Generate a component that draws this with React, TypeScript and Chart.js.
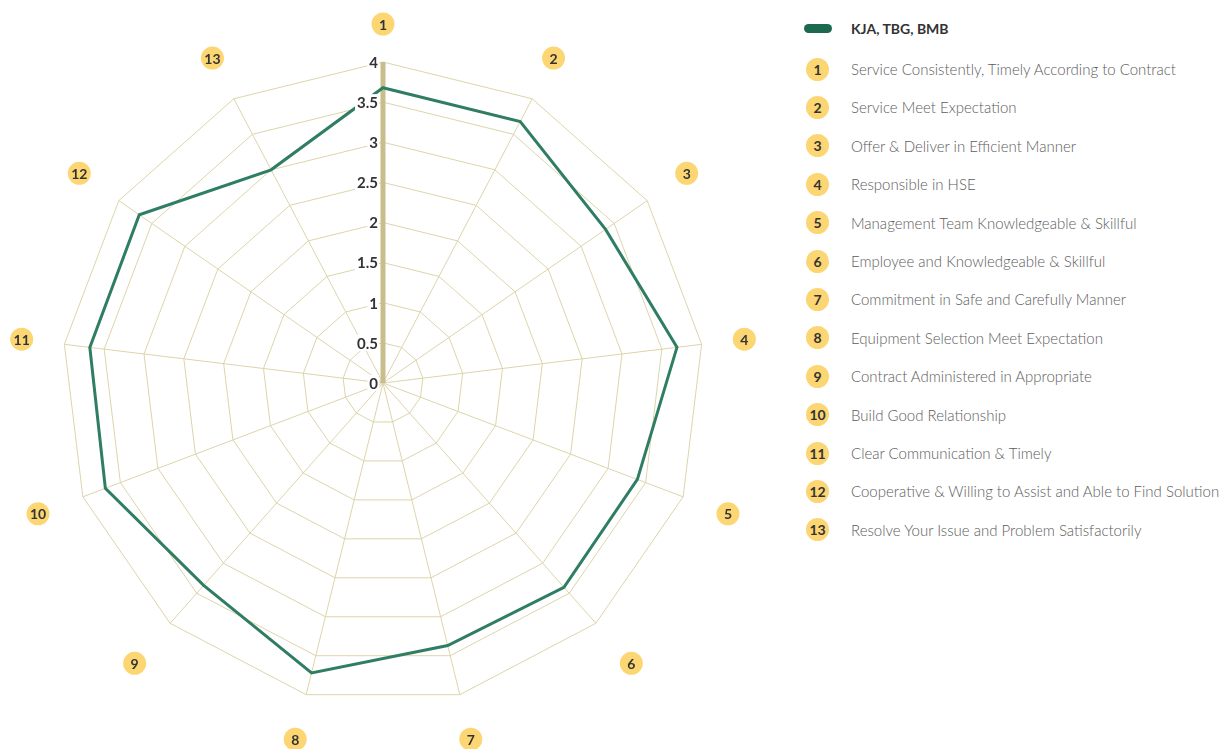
import React, { useEffect, useRef } from "react";
import { Chart, registerables } from "chart.js";

Chart.register(...registerables);

const axisLabels = ["1", "2", "3", "4", "5", "6", "7", "8", "9", "10", "11", "12", "13"];
const criteria = [
  "Service Consistently, Timely According to Contract",
  "Service Meet Expectation",
  "Offer & Deliver in Efficient Manner",
  "Responsible in HSE",
  "Management Team Knowledgeable & Skillful",
  "Employee and Knowledgeable & Skillful",
  "Commitment in Safe and Carefully Manner",
  "Equipment Selection Meet Expectation",
  "Contract Administered in Appropriate",
  "Build Good Relationship",
  "Clear Communication & Timely",
  "Cooperative & Willing to Assist and Able to Find Solution",
  "Resolve Your Issue and Problem Satisfactorily",
];
const seriesName = "KJA, TBG, BMB";
const seriesValues = [3.68, 3.68, 3.37, 3.69, 3.39, 3.4, 3.37, 3.72, 3.37, 3.7, 3.68, 3.69, 3.0];
const scaleMax = 4;
const scaleStep = 0.5;

const GREEN = "#2f7d62";
const GREEN_DARK = "#1b6a4f";
const YELLOW = "#fcd673";
const GRID = "#ddd4ab";
const AXIS_MAIN = "#c8bd8c";
const FONT = "Lato, 'Open Sans', sans-serif";

const tickLabelPlugin = {
  id: "tickLabelPlugin",
  afterDatasetsDraw(chart: any) {
    const scale = chart.scales.r;
    const ctx = chart.ctx;
    ctx.save();
    ctx.font = `bold 15px ${FONT}`;
    ctx.textAlign = "right";
    ctx.textBaseline = "middle";
    scale.ticks.forEach((t: any) => {
      const d = scale.getDistanceFromCenterForValue(t.value);
      const x = scale.xCenter - 5;
      const y = scale.yCenter - d;
      const label = String(t.value);
      const w = ctx.measureText(label).width;
      ctx.fillStyle = "#ffffff";
      ctx.fillRect(x - w - 2, y - 8, w + 3, 16);
      ctx.fillStyle = "#333333";
      ctx.fillText(label, x, y + 1);
    });
    ctx.restore();
  },
};

const pointLabelPlugin = {
  id: "pointLabelPlugin",
  afterDraw(chart: any) {
    const scale = chart.scales.r;
    const ctx = chart.ctx;
    ctx.save();
    ctx.font = `bold 14px ${FONT}`;
    ctx.textAlign = "center";
    ctx.textBaseline = "middle";
    axisLabels.forEach((lab, i) => {
      const a = scale.getIndexAngle(i);
      const s2 = Math.abs(Math.sin(2 * a));
      const off = 38 + 3.1 * Math.abs(Math.sin(a)) + 8 * s2 + 7.4 * Math.max(0, -Math.cos(a)) * s2;
      const p = scale.getPointPosition(i, scale.drawingArea + off);
      ctx.beginPath();
      ctx.arc(p.x, p.y, 11.5, 0, Math.PI * 2);
      ctx.fillStyle = YELLOW;
      ctx.fill();
      ctx.fillStyle = "#333333";
      ctx.fillText(lab, p.x, p.y + 1);
    });
    ctx.restore();
  },
};

function RadarChart() {
  const ref = useRef<HTMLCanvasElement>(null);
  useEffect(() => {
    if (!ref.current) return;
    const chart = new Chart(ref.current, {
      type: "radar",
      data: {
        labels: axisLabels,
        datasets: [
          {
            label: seriesName,
            data: seriesValues,
            borderColor: GREEN,
            backgroundColor: "transparent",
            borderWidth: 3,
            pointRadius: 0,
            fill: false,
            tension: 0,
          },
        ],
      },
      options: {
        animation: false,
        responsive: false,
        maintainAspectRatio: false,
        layout: { padding: { left: 62, top: 62, right: 66, bottom: 45 } },
        plugins: { legend: { display: false }, tooltip: { enabled: false } },
        scales: {
          r: {
            min: 0,
            max: scaleMax,
            ticks: { stepSize: scaleStep, display: false },
            pointLabels: { display: false },
            grid: { color: GRID, lineWidth: 1, circular: false },
            angleLines: {
              color: (c: any) => (c.index === 0 ? AXIS_MAIN : GRID),
              lineWidth: (c: any) => (c.index === 0 ? 5 : 1),
            },
          },
        },
      },
      plugins: [tickLabelPlugin, pointLabelPlugin],
    });
    return () => chart.destroy();
  }, []);
  return <canvas ref={ref} width={770} height={749} style={{ position: "absolute", left: 0, top: 0, width: 770, height: 749 }} />;
}

function Legend() {
  return (
    <div style={{ position: "absolute", left: 0, top: 0, fontFamily: FONT }}>
      <div style={{ position: "absolute", left: 804, top: 24, width: 28, height: 9, borderRadius: 5, background: GREEN_DARK }} />
      <div style={{ position: "absolute", left: 851, top: 19, height: 20, lineHeight: "20px", fontSize: 14, fontWeight: 700, color: "#333", whiteSpace: "nowrap" }}>
        {seriesName}
      </div>
      {criteria.map((c, i) => {
        const cy = 69 + i * 38.4;
        return (
          <React.Fragment key={i}>
            <div
              style={{
                position: "absolute",
                left: 806,
                top: cy - 11.5,
                width: 23,
                height: 23,
                borderRadius: "50%",
                background: YELLOW,
                color: "#333",
                fontWeight: 700,
                fontSize: 14,
                lineHeight: "23px",
                textAlign: "center",
              }}
            >
              {axisLabels[i]}
            </div>
            <div
              style={{
                position: "absolute",
                left: 851,
                top: cy - 10,
                height: 20,
                lineHeight: "20px",
                fontSize: 15,
                fontWeight: 300,
                color: "#5c5c5c",
                whiteSpace: "nowrap",
              }}
            >
              {c}
            </div>
          </React.Fragment>
        );
      })}
    </div>
  );
}

export default function App() {
  return (
    <div style={{ position: "absolute", left: 0, top: 0, width: 1220, height: 749, background: "#fff", overflow: "hidden" }}>
      <RadarChart />
      <Legend />
    </div>
  );
}
